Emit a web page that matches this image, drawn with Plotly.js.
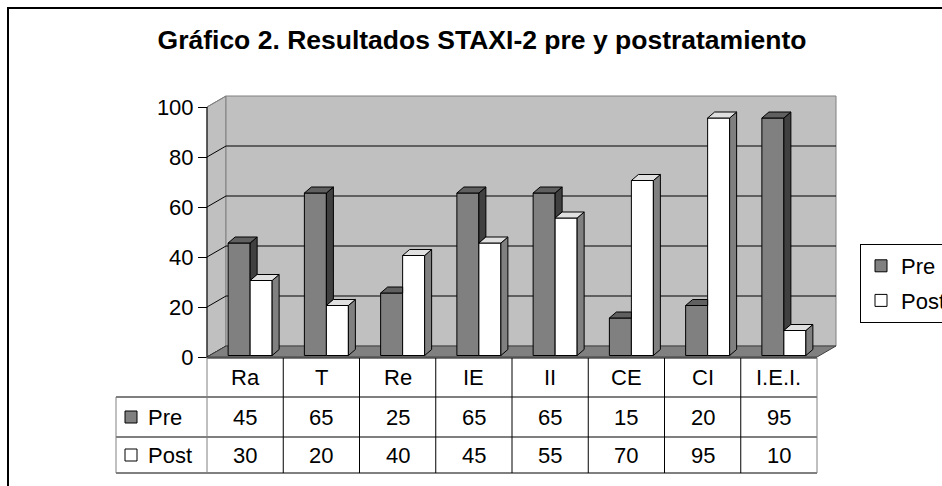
<!DOCTYPE html>
<html>
<head>
<meta charset="utf-8">
<script src="https://cdn.plot.ly/plotly-3.0.1.min.js"></script>
<style>html,body{margin:0;padding:0;background:#fff;}#chart{width:942px;height:486px;}</style>
</head>
<body>
<div id="chart"></div>
<script>
// ---- data ----
const categories = ['Ra', 'T', 'Re', 'IE', 'II', 'CE', 'CI', 'I.E.I.'];
const pre = [45, 65, 25, 65, 65, 15, 20, 95];
const post = [30, 20, 40, 45, 55, 70, 95, 10];
const seriesNames = ['Pre', 'Post'];
const yTicks = [0, 20, 40, 60, 80, 100];
const titleText = 'Gráfico 2. Resultados STAXI-2 pre y postratamiento';

// ---- geometry helpers (pixel -> data units) ----
const PX = 76.25, PY = 2.5;
const dx = p => -0.5 + (p - 207) / PX;
const dy = p => (357 - p) / PY;
const shift = 5 / PX, bw = 22 / PX, bdx = 7 / PX, bdy = 6 / PY, base = 0.6;
const wdx = 19 / PX, wdy = 11 / PY;
const n = categories.length;
const FONT = 'Liberation Sans, Arial, sans-serif';

const preX = categories.map((_, i) => i + shift - bw / 2);
const postX = categories.map((_, i) => i + shift + bw / 2);

// 3D faces
const preSideX = [], preSideY = [], preTopX = [], preTopY = [];
const postSideX = [], postSideY = [], postTopX = [], postTopY = [];
function poly(ax, ay, pts) { pts.forEach(p => { ax.push(p[0]); ay.push(p[1]); }); ax.push(pts[0][0]); ay.push(pts[0][1]); ax.push(null); ay.push(null); }
for (let i = 0; i < n; i++) {
  const xr = i + shift;
  const vP = pre[i] + base, vQ = post[i] + base;
  if (vP > vQ) {
    poly(preSideX, preSideY, [[xr, vQ], [xr, vP], [xr + bdx, vP + bdy], [xr + bdx, vQ + bdy]]);
    poly(preTopX, preTopY, [[xr - bw, vP], [xr, vP], [xr + bdx, vP + bdy], [xr - bw + bdx, vP + bdy]]);
  } else {
    poly(preTopX, preTopY, [[xr - bw, vP], [xr, vP], [xr, vP + bdy], [xr - bw + bdx, vP + bdy]]);
  }
  poly(postSideX, postSideY, [[xr + bw, base], [xr + bw, vQ], [xr + bw + bdx, vQ + bdy], [xr + bw + bdx, base + bdy]]);
  poly(postTopX, postTopY, [[xr, vQ], [xr + bw, vQ], [xr + bw + bdx, vQ + bdy], [xr + bdx, vQ + bdy]]);
}
function face(x, y, color) {
  return { type: 'scatter', mode: 'lines', x: x, y: y, fill: 'toself', fillcolor: color,
    line: { color: '#000', width: 1 }, showlegend: false, hoverinfo: 'skip' };
}

const traces = [
  { type: 'bar', name: seriesNames[0], legendgroup: 'a', x: preX, y: pre, base: base, width: bw,
    marker: { color: '#808080', line: { color: '#000', width: 1 } } },
  { type: 'bar', name: seriesNames[1], legendgroup: 'b', x: postX, y: post, base: base, width: bw,
    marker: { color: '#ffffff', line: { color: '#000', width: 1 } } },
  face(preSideX, preSideY, '#404040'),
  face(preTopX, preTopY, '#606060'),
  face(postSideX, postSideY, '#808080'),
  face(postTopX, postTopY, '#e0e0e0')
];

// ---- walls, floor ----
const shapes = [];
const L = -0.5, R = n - 0.5;
shapes.push({ type: 'path', layer: 'below', xref: 'x', yref: 'y',
  path: `M${L},0 L${L},100 L${L + wdx},${100 + wdy} L${L + wdx},${wdy} Z`,
  fillcolor: '#c0c0c0', line: { color: '#808080', width: 1 } });
shapes.push({ type: 'rect', layer: 'below', xref: 'x', yref: 'y', x0: L + wdx, x1: R + wdx, y0: wdy, y1: 100 + wdy,
  fillcolor: '#c0c0c0', line: { color: '#808080', width: 1 } });
yTicks.forEach(v => {
  if (v > 0 && v < 100) {
    shapes.push({ type: 'line', layer: 'below', xref: 'x', yref: 'y', x0: L + wdx, x1: R + wdx, y0: v + wdy, y1: v + wdy,
      line: { color: '#000', width: 1 } });
  }
  shapes.push({ type: 'line', layer: 'below', xref: 'x', yref: 'y', x0: L, x1: L + wdx, y0: v, y1: v + wdy,
    line: { color: v === 100 ? '#808080' : '#000', width: 1 } });
});
shapes.push({ type: 'path', layer: 'below', xref: 'x', yref: 'y',
  path: `M${L},0 L${R},0 L${R + wdx},${wdy} L${L + wdx},${wdy} Z`,
  fillcolor: '#808080', line: { color: '#404040', width: 1 } });
// value axis line
shapes.push({ type: 'line', layer: 'above', xref: 'x', yref: 'y', x0: L, x1: L, y0: 0, y1: 100, line: { color: '#000', width: 1 } });

// ---- data table ----
const tLeft = dx(116);
const rowY = [dy(358), dy(397), dy(437), dy(473)];
const tl = (x0, x1, y0, y1, c) => shapes.push({ type: 'line', layer: 'above', xref: 'x', yref: 'y', x0, x1, y0, y1, line: { color: c || '#000', width: 1 } });
tl(L, R, rowY[0], rowY[0]);
tl(tLeft, R, rowY[1], rowY[1]);
tl(tLeft, R, rowY[2], rowY[2]);
tl(tLeft, R, rowY[3], rowY[3]);
tl(tLeft, tLeft, rowY[1], rowY[3], '#808080');
for (let k = 0; k <= n; k++) tl(k - 0.5, k - 0.5, k === 0 ? 0 : rowY[0], rowY[3], (k === 0 || k === n) ? '#808080' : '#000');
// legend keys in table
const keyColors = ['#808080', '#ffffff'];
[1, 2].forEach((r, j) => {
  const yc = (rowY[r] + rowY[r + 1]) / 2;
  shapes.push({ type: 'rect', layer: 'above', xref: 'x', yref: 'y', x0: dx(125), x1: dx(137), y0: yc - 6 / PY, y1: yc + 6 / PY,
    fillcolor: keyColors[j], line: { color: '#000', width: 1 } });
});
// frame
shapes.push({ type: 'rect', xref: 'paper', yref: 'paper', x0: 8 / 942, x1: 1.05, y0: -0.05, y1: 1 - 8 / 486,
  line: { color: '#000', width: 2 }, fillcolor: 'rgba(0,0,0,0)' });

const annotations = [];
const tf = { family: FONT, size: 22, color: '#000' };
const rc = r => (rowY[r] + rowY[r + 1]) / 2;
categories.forEach((c, i) => {
  annotations.push({ x: i, y: rc(0), text: c, showarrow: false, xanchor: 'center', yanchor: 'middle', font: tf });
  annotations.push({ x: i, y: rc(1), text: String(pre[i]), showarrow: false, xanchor: 'center', yanchor: 'middle', font: tf });
  annotations.push({ x: i, y: rc(2), text: String(post[i]), showarrow: false, xanchor: 'center', yanchor: 'middle', font: tf });
});
seriesNames.forEach((s, j) => {
  annotations.push({ x: dx(146), y: rc(j + 1), text: s, showarrow: false, xanchor: 'left', yanchor: 'middle', font: tf });
});

const layout = {
  width: 942, height: 486,
  margin: { l: 0, r: 0, t: 0, b: 0, pad: 0, autoexpand: false },
  paper_bgcolor: '#fff', plot_bgcolor: 'rgba(0,0,0,0)',
  barmode: 'overlay',
  title: { text: titleText, x: 482 / 942, xanchor: 'center', y: 1 - 40 / 486, yanchor: 'middle', yref: 'container',
    font: { family: FONT, size: 26.5, weight: 700, color: '#000' } },
  xaxis: { type: 'linear', range: [dx(0), dx(942)], visible: false, fixedrange: true },
  yaxis: { type: 'linear', range: [dy(486), dy(0)], anchor: 'free', position: 207 / 942, side: 'left',
    tickmode: 'array', tickvals: yTicks, ticktext: yTicks.map(String), ticks: 'outside', ticklen: 9, tickcolor: '#000',
    tickfont: { family: FONT, size: 22, color: '#000' }, showgrid: false, zeroline: false, showline: false, fixedrange: true },
  legend: { x: 860 / 942, y: 1 - 244 / 486, xanchor: 'left', yanchor: 'top', bgcolor: '#fff', bordercolor: '#000', borderwidth: 1,
    font: { family: FONT, size: 22, color: '#000' }, traceorder: 'grouped', tracegroupgap: 3 },
  shapes: shapes,
  annotations: annotations,
  showlegend: true
};

Plotly.newPlot('chart', traces, layout, { displayModeBar: false, staticPlot: true });
</script>
</body>
</html>
